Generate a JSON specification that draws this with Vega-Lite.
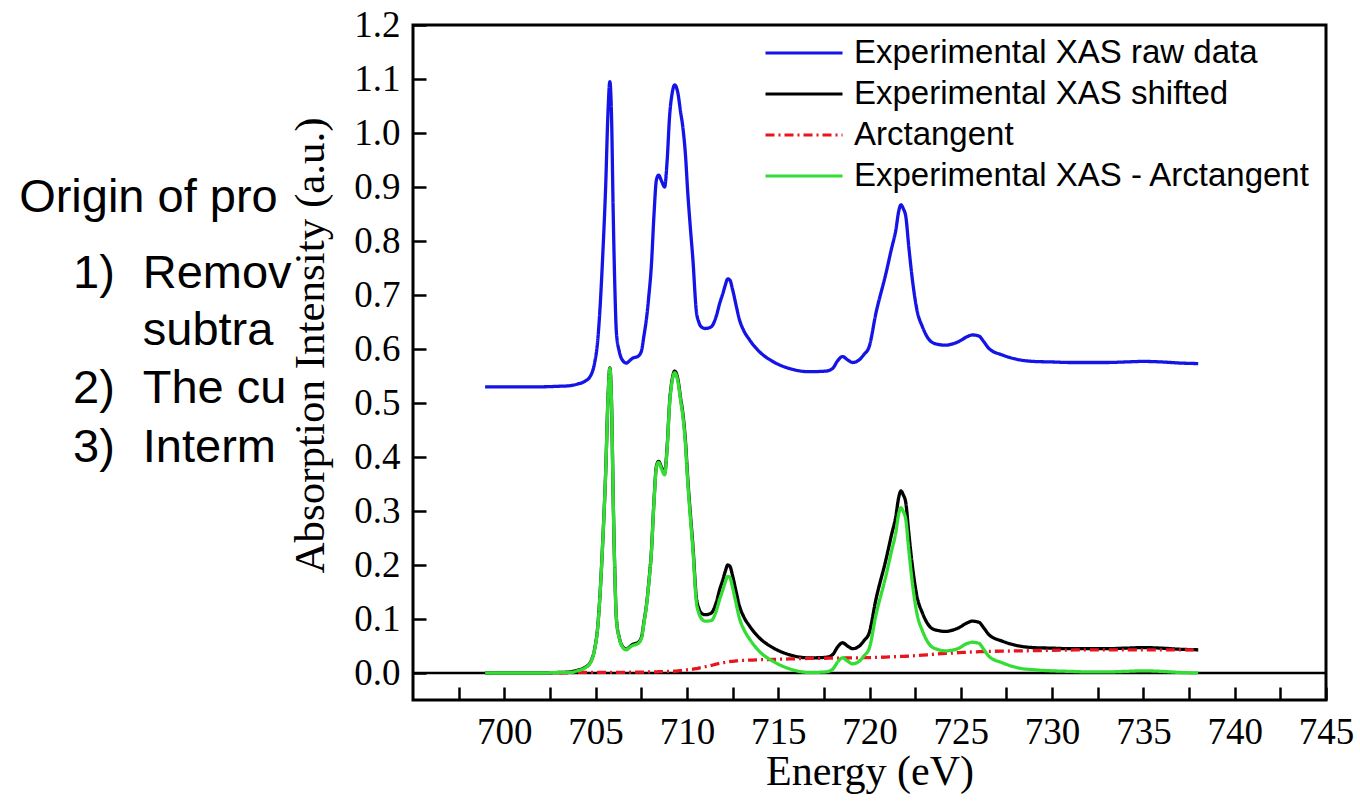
{
  "$schema": "https://vega.github.io/schema/vega-lite/v6.json",
  "width": 913,
  "height": 675,
  "autosize": {"type": "none"},
  "padding": {"left": 413, "top": 25, "right": 34, "bottom": 104},
  "background": "white",
  "config": {
    "view": {"stroke": "black", "strokeWidth": 3},
    "axis": {
      "domain": false,
      "grid": false,
      "tickColor": "black",
      "tickWidth": 2.5,
      "labelColor": "black",
      "labelFont": "Liberation Serif",
      "labelFontSize": 37,
      "titleColor": "black",
      "titleFont": "Liberation Serif",
      "titleFontSize": 42,
      "titleFontWeight": "normal",
      "labelOverlap": false,
      "labelFlush": false,
      "labelBound": false
    }
  },
  "layer": [
    {
      "data": {
        "values": [
          {"t": "Origin of pro", "E": 673.43, "I": 0.854},
          {"t": "1)", "E": 676.38, "I": 0.713},
          {"t": "Remov", "E": 680.2, "I": 0.713},
          {"t": "subtra", "E": 680.2, "I": 0.607},
          {"t": "2)", "E": 676.38, "I": 0.5},
          {"t": "The cu", "E": 680.2, "I": 0.5},
          {"t": "3)", "E": 676.38, "I": 0.391},
          {"t": "Interm", "E": 680.2, "I": 0.391}
        ]
      },
      "mark": {"type": "text", "font": "Liberation Sans", "fontSize": 47, "align": "left", "baseline": "alphabetic", "color": "black"},
      "encoding": {
        "x": {"field": "E", "type": "quantitative", "scale": {"domain": [695, 745]}},
        "y": {"field": "I", "type": "quantitative", "scale": {"domain": [-0.05, 1.2]}},
        "text": {"field": "t"}
      }
    },
    {
      "data": {"values": [{"I": 0}]},
      "mark": {"type": "rule", "color": "black", "strokeWidth": 2.5},
      "encoding": {
        "y": {"field": "I", "type": "quantitative", "scale": {"domain": [-0.05, 1.2]}}
      }
    },
    {
      "data": {
        "values": [
          {"E": 698.95, "raw": 0.530, "shifted": 0.000, "diff": 0.000},
          {"E": 700, "raw": 0.530, "shifted": 0.000, "diff": 0.000},
          {"E": 701, "raw": 0.530, "shifted": 0.000, "diff": 0.000},
          {"E": 702, "raw": 0.530, "shifted": 0.000, "diff": 0.000},
          {"E": 703, "raw": 0.531, "shifted": 0.001, "arctan": 0.000, "diff": 0.001},
          {"E": 703.6, "raw": 0.532, "shifted": 0.002, "arctan": 0.0006, "diff": 0.001},
          {"E": 704.0, "raw": 0.535, "shifted": 0.005, "arctan": 0.001, "diff": 0.004},
          {"E": 704.4, "raw": 0.540, "shifted": 0.010, "arctan": 0.001, "diff": 0.009},
          {"E": 704.7, "raw": 0.549, "shifted": 0.019, "arctan": 0.001, "diff": 0.018},
          {"E": 704.95, "raw": 0.575, "shifted": 0.045, "arctan": 0.001, "diff": 0.044},
          {"E": 705.1, "raw": 0.610, "shifted": 0.080, "arctan": 0.001, "diff": 0.079},
          {"E": 705.25, "raw": 0.680, "shifted": 0.150, "arctan": 0.001, "diff": 0.149},
          {"E": 705.4, "raw": 0.780, "shifted": 0.250, "arctan": 0.001, "diff": 0.249},
          {"E": 705.55, "raw": 0.900, "shifted": 0.370, "arctan": 0.001, "diff": 0.369},
          {"E": 705.68, "raw": 1.040, "shifted": 0.510, "arctan": 0.001, "diff": 0.509},
          {"E": 705.78, "raw": 1.095, "shifted": 0.565, "arctan": 0.001, "diff": 0.564},
          {"E": 705.88, "raw": 1.020, "shifted": 0.490, "arctan": 0.001, "diff": 0.489},
          {"E": 705.96, "raw": 0.860, "shifted": 0.330, "arctan": 0.001, "diff": 0.329},
          {"E": 706.05, "raw": 0.720, "shifted": 0.190, "arctan": 0.001, "diff": 0.189},
          {"E": 706.14, "raw": 0.630, "shifted": 0.100, "arctan": 0.001, "diff": 0.099},
          {"E": 706.3, "raw": 0.595, "shifted": 0.065, "arctan": 0.0012, "diff": 0.064},
          {"E": 706.5, "raw": 0.578, "shifted": 0.048, "arctan": 0.0012, "diff": 0.047},
          {"E": 706.69, "raw": 0.574, "shifted": 0.044, "arctan": 0.0013, "diff": 0.043},
          {"E": 706.85, "raw": 0.578, "shifted": 0.048, "arctan": 0.0014, "diff": 0.047},
          {"E": 707.03, "raw": 0.583, "shifted": 0.053, "arctan": 0.0015, "diff": 0.051},
          {"E": 707.3, "raw": 0.586, "shifted": 0.056, "arctan": 0.0016, "diff": 0.054},
          {"E": 707.5, "raw": 0.595, "shifted": 0.065, "arctan": 0.0017, "diff": 0.063},
          {"E": 707.65, "raw": 0.625, "shifted": 0.095, "arctan": 0.0018, "diff": 0.093},
          {"E": 707.8, "raw": 0.660, "shifted": 0.130, "arctan": 0.0019, "diff": 0.128},
          {"E": 707.92, "raw": 0.700, "shifted": 0.170, "arctan": 0.002, "diff": 0.168},
          {"E": 708.05, "raw": 0.752, "shifted": 0.222, "arctan": 0.002, "diff": 0.220},
          {"E": 708.2, "raw": 0.850, "shifted": 0.320, "arctan": 0.002, "diff": 0.318},
          {"E": 708.33, "raw": 0.913, "shifted": 0.383, "arctan": 0.002, "diff": 0.381},
          {"E": 708.45, "raw": 0.922, "shifted": 0.392, "arctan": 0.0025, "diff": 0.390},
          {"E": 708.6, "raw": 0.912, "shifted": 0.382, "arctan": 0.0026, "diff": 0.379},
          {"E": 708.78, "raw": 0.900, "shifted": 0.370, "arctan": 0.0028, "diff": 0.367},
          {"E": 708.92, "raw": 0.950, "shifted": 0.420, "arctan": 0.003, "diff": 0.417},
          {"E": 709.05, "raw": 1.030, "shifted": 0.500, "arctan": 0.003, "diff": 0.497},
          {"E": 709.2, "raw": 1.075, "shifted": 0.545, "arctan": 0.003, "diff": 0.542},
          {"E": 709.33, "raw": 1.089, "shifted": 0.559, "arctan": 0.0033, "diff": 0.556},
          {"E": 709.5, "raw": 1.075, "shifted": 0.545, "arctan": 0.004, "diff": 0.541},
          {"E": 709.65, "raw": 1.040, "shifted": 0.510, "arctan": 0.0044, "diff": 0.506},
          {"E": 709.78, "raw": 1.010, "shifted": 0.480, "arctan": 0.0047, "diff": 0.475},
          {"E": 709.92, "raw": 0.960, "shifted": 0.430, "arctan": 0.0055, "diff": 0.424},
          {"E": 710.05, "raw": 0.888, "shifted": 0.358, "arctan": 0.006, "diff": 0.352},
          {"E": 710.2, "raw": 0.820, "shifted": 0.290, "arctan": 0.0066, "diff": 0.283},
          {"E": 710.33, "raw": 0.765, "shifted": 0.235, "arctan": 0.007, "diff": 0.228},
          {"E": 710.51, "raw": 0.672, "shifted": 0.142, "arctan": 0.008, "diff": 0.134},
          {"E": 710.65, "raw": 0.650, "shifted": 0.120, "arctan": 0.009, "diff": 0.111},
          {"E": 710.79, "raw": 0.641, "shifted": 0.111, "arctan": 0.010, "diff": 0.101},
          {"E": 711.0, "raw": 0.638, "shifted": 0.108, "arctan": 0.0116, "diff": 0.096},
          {"E": 711.33, "raw": 0.641, "shifted": 0.111, "arctan": 0.014, "diff": 0.097},
          {"E": 711.6, "raw": 0.660, "shifted": 0.130, "arctan": 0.0164, "diff": 0.114},
          {"E": 711.8, "raw": 0.685, "shifted": 0.155, "arctan": 0.018, "diff": 0.137},
          {"E": 711.97, "raw": 0.703, "shifted": 0.173, "arctan": 0.019, "diff": 0.154},
          {"E": 712.1, "raw": 0.718, "shifted": 0.188, "arctan": 0.0198, "diff": 0.168},
          {"E": 712.24, "raw": 0.730, "shifted": 0.200, "arctan": 0.0206, "diff": 0.179},
          {"E": 712.35, "raw": 0.728, "shifted": 0.198, "arctan": 0.021, "diff": 0.177},
          {"E": 712.51, "raw": 0.709, "shifted": 0.179, "arctan": 0.0217, "diff": 0.157},
          {"E": 712.7, "raw": 0.680, "shifted": 0.150, "arctan": 0.0223, "diff": 0.128},
          {"E": 712.88, "raw": 0.654, "shifted": 0.124, "arctan": 0.023, "diff": 0.101},
          {"E": 713.1, "raw": 0.635, "shifted": 0.105, "arctan": 0.0233, "diff": 0.082},
          {"E": 713.43, "raw": 0.617, "shifted": 0.087, "arctan": 0.0239, "diff": 0.063},
          {"E": 713.97, "raw": 0.595, "shifted": 0.065, "arctan": 0.0245, "diff": 0.040},
          {"E": 714.7, "raw": 0.577, "shifted": 0.047, "arctan": 0.0252, "diff": 0.022},
          {"E": 715.6, "raw": 0.564, "shifted": 0.034, "arctan": 0.026, "diff": 0.008},
          {"E": 716.7, "raw": 0.558, "shifted": 0.028, "arctan": 0.027, "diff": 0.001},
          {"E": 717.6, "raw": 0.559, "shifted": 0.029, "arctan": 0.0273, "diff": 0.002},
          {"E": 717.98, "raw": 0.564, "shifted": 0.034, "arctan": 0.0275, "diff": 0.007},
          {"E": 718.25, "raw": 0.578, "shifted": 0.048, "arctan": 0.0276, "diff": 0.020},
          {"E": 718.52, "raw": 0.586, "shifted": 0.056, "arctan": 0.0277, "diff": 0.028},
          {"E": 718.8, "raw": 0.580, "shifted": 0.050, "arctan": 0.0278, "diff": 0.022},
          {"E": 719.07, "raw": 0.575, "shifted": 0.045, "arctan": 0.0279, "diff": 0.017},
          {"E": 719.44, "raw": 0.580, "shifted": 0.050, "arctan": 0.028, "diff": 0.022},
          {"E": 719.7, "raw": 0.590, "shifted": 0.060, "arctan": 0.0283, "diff": 0.032},
          {"E": 719.98, "raw": 0.604, "shifted": 0.074, "arctan": 0.0285, "diff": 0.045},
          {"E": 720.35, "raw": 0.666, "shifted": 0.136, "arctan": 0.0289, "diff": 0.107},
          {"E": 720.9, "raw": 0.740, "shifted": 0.210, "arctan": 0.0295, "diff": 0.180},
          {"E": 721.2, "raw": 0.785, "shifted": 0.255, "arctan": 0.0299, "diff": 0.225},
          {"E": 721.44, "raw": 0.820, "shifted": 0.290, "arctan": 0.0302, "diff": 0.260},
          {"E": 721.6, "raw": 0.855, "shifted": 0.325, "arctan": 0.0304, "diff": 0.295},
          {"E": 721.72, "raw": 0.867, "shifted": 0.337, "arctan": 0.0306, "diff": 0.306},
          {"E": 721.85, "raw": 0.860, "shifted": 0.330, "arctan": 0.0308, "diff": 0.299},
          {"E": 721.99, "raw": 0.845, "shifted": 0.315, "arctan": 0.031, "diff": 0.284},
          {"E": 722.15, "raw": 0.790, "shifted": 0.260, "arctan": 0.0313, "diff": 0.229},
          {"E": 722.35, "raw": 0.728, "shifted": 0.198, "arctan": 0.0318, "diff": 0.166},
          {"E": 722.6, "raw": 0.672, "shifted": 0.142, "arctan": 0.0323, "diff": 0.110},
          {"E": 722.9, "raw": 0.641, "shifted": 0.111, "arctan": 0.033, "diff": 0.078},
          {"E": 723.36, "raw": 0.614, "shifted": 0.084, "arctan": 0.0343, "diff": 0.050},
          {"E": 723.7, "raw": 0.609, "shifted": 0.079, "arctan": 0.0352, "diff": 0.044},
          {"E": 724.17, "raw": 0.607, "shifted": 0.077, "arctan": 0.0363, "diff": 0.041},
          {"E": 724.5, "raw": 0.609, "shifted": 0.079, "arctan": 0.0369, "diff": 0.042},
          {"E": 724.9, "raw": 0.614, "shifted": 0.084, "arctan": 0.0377, "diff": 0.046},
          {"E": 725.3, "raw": 0.622, "shifted": 0.092, "arctan": 0.0384, "diff": 0.054},
          {"E": 725.63, "raw": 0.626, "shifted": 0.096, "arctan": 0.039, "diff": 0.057},
          {"E": 725.99, "raw": 0.624, "shifted": 0.094, "arctan": 0.0394, "diff": 0.055},
          {"E": 726.25, "raw": 0.614, "shifted": 0.084, "arctan": 0.0397, "diff": 0.044},
          {"E": 726.54, "raw": 0.601, "shifted": 0.071, "arctan": 0.040, "diff": 0.031},
          {"E": 727.27, "raw": 0.589, "shifted": 0.059, "arctan": 0.0405, "diff": 0.019},
          {"E": 728.2, "raw": 0.580, "shifted": 0.050, "arctan": 0.041, "diff": 0.009},
          {"E": 729, "raw": 0.577, "shifted": 0.047, "arctan": 0.0414, "diff": 0.006},
          {"E": 730, "raw": 0.576, "shifted": 0.046, "arctan": 0.042, "diff": 0.004},
          {"E": 731, "raw": 0.575, "shifted": 0.045, "arctan": 0.0425, "diff": 0.003},
          {"E": 732, "raw": 0.575, "shifted": 0.045, "arctan": 0.043, "diff": 0.002},
          {"E": 733, "raw": 0.575, "shifted": 0.045, "arctan": 0.043, "diff": 0.002},
          {"E": 734, "raw": 0.576, "shifted": 0.046, "arctan": 0.043, "diff": 0.003},
          {"E": 735, "raw": 0.577, "shifted": 0.047, "arctan": 0.043, "diff": 0.004},
          {"E": 736, "raw": 0.576, "shifted": 0.046, "arctan": 0.043, "diff": 0.003},
          {"E": 737, "raw": 0.574, "shifted": 0.044, "arctan": 0.043, "diff": 0.001},
          {"E": 738, "raw": 0.573, "shifted": 0.043, "arctan": 0.043, "diff": 0.000}
        ]
      },
      "transform": [{"fold": ["raw", "shifted", "arctan", "diff"], "as": ["series", "I"]}],
      "mark": {"type": "line", "interpolate": "monotone", "strokeWidth": 3.3},
      "encoding": {
        "x": {
          "field": "E", "type": "quantitative",
          "scale": {"domain": [695, 745], "nice": false, "zero": false},
          "axis": {
            "title": "Energy (eV)",
            "values": [697.5, 700, 702.5, 705, 707.5, 710, 712.5, 715, 717.5, 720, 722.5, 725, 727.5, 730, 732.5, 735, 737.5, 740, 742.5, 745],
            "format": "d",
            "labelExpr": "datum.value % 5 === 0 ? format(datum.value, 'd') : ''",
            "tickSize": -13,
            "labelPadding": 27,
            "titlePadding": 1,
            "encode": {"ticks": {"update": {"y2": {"signal": "datum.value % 5 === 0 ? -13 : -7"}}}}
          }
        },
        "y": {
          "field": "I", "type": "quantitative",
          "scale": {"domain": [-0.05, 1.2], "nice": false, "zero": false},
          "axis": {
            "title": "Absorption Intensity (a.u.)",
            "titleFontSize": 43,
            "titleY": 320,
            "values": [0, 0.05, 0.1, 0.15, 0.2, 0.25, 0.3, 0.35, 0.4, 0.45, 0.5, 0.55, 0.6, 0.65, 0.7, 0.75, 0.8, 0.85, 0.9, 0.95, 1.0, 1.05, 1.1, 1.15, 1.2],
            "labelExpr": "round(datum.value * 100) % 10 === 0 ? format(datum.value, '.1f') : ''",
            "tickSize": -13,
            "labelPadding": 26,
            "titlePadding": 21,
            "encode": {"ticks": {"update": {"x2": {"signal": "round(datum.value * 100) % 10 === 0 ? 13 : 7"}}}}
          }
        },
        "color": {
          "field": "series", "type": "nominal",
          "scale": {"domain": ["raw", "shifted", "arctan", "diff"], "range": ["#1414e6", "#000000", "#e8141e", "#33dd33"]},
          "legend": {
            "title": null,
            "orient": "none",
            "legendX": 370,
            "legendY": 7,
            "labelExpr": "datum.value === 'raw' ? 'Experimental XAS raw data' : datum.value === 'shifted' ? 'Experimental XAS shifted' : datum.value === 'arctan' ? 'Arctangent' : 'Experimental XAS - Arctangent'",
            "labelFont": "Liberation Sans",
            "labelFontSize": 33,
            "labelColor": "black",
            "labelLimit": 0,
            "labelOffset": 29,
            "symbolType": "M-2,0H2",
            "symbolSize": 1482,
            "symbolStrokeWidth": 3,
            "rowPadding": 3
          }
        },
        "strokeDash": {
          "field": "series", "type": "nominal",
          "scale": {"domain": ["raw", "shifted", "arctan", "diff"], "range": [[1, 0], [1, 0], [9, 4, 2, 4], [1, 0]]},
          "legend": null
        }
      }
    }
  ]
}
